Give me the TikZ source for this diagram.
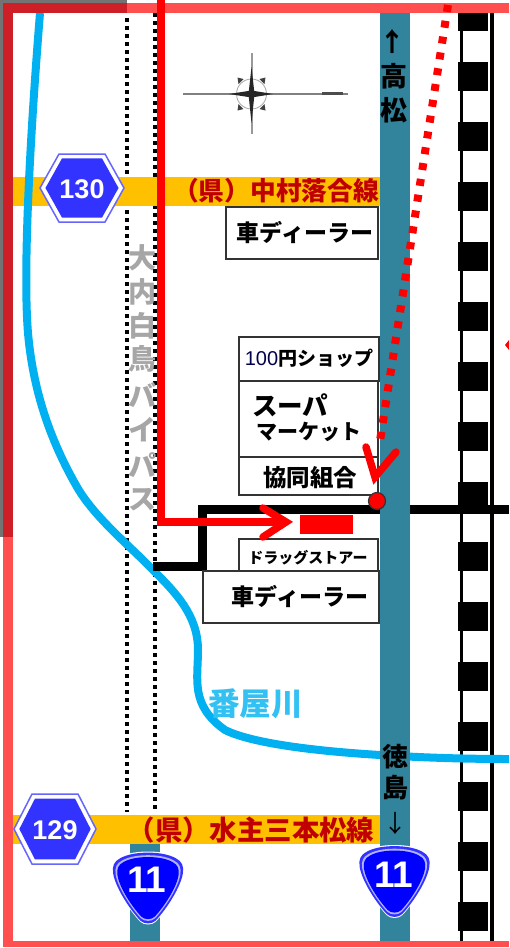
\documentclass[tikz,border=0pt]{standalone}
\usepackage{fontspec}
\setmainfont{Noto Sans CJK JP}
\newfontfamily\numfont{Liberation Sans}
\definecolor{frame}{HTML}{FF4F4F}
\definecolor{framedark}{HTML}{CF1F26}
\definecolor{teal}{HTML}{31849B}
\definecolor{band}{HTML}{FFC000}
\definecolor{river}{HTML}{00B0F0}
\definecolor{kenred}{HTML}{C00000}
\definecolor{hexblue}{HTML}{3333FF}
\newcommand{\fs}[1]{\fontsize{#1}{#1}\selectfont}
\tikzset{
  x=1pt,y=-1pt,
  shop/.style={draw=black!80,line width=1.5pt,fill=white},
  lbl/.style={inner sep=0pt,font=\fs{23}\bfseries},
  vlbl/.style={inner sep=0pt,font=\fs{27}\bfseries},
  gray lbl/.style={inner sep=0pt,text=black!35,font=\fs{28}\bfseries},
  ken/.style={inner sep=0pt,text=kenred,font=\fs{25.7}\bfseries},
  rail/.style={line width=3.5pt,black},
  dots/.style={line width=3.5pt,dash pattern=on 3.5pt off 4.5pt},
  numlbl/.style={inner sep=0pt,text=white,font=\numfont\bfseries\fs{27}},
  shieldnum/.style={inner sep=0pt,text=white,font=\numfont\bfseries\fs{37}},
  redline/.style={red,line width=8pt},
}
\newcommand{\hexsign}[5]{% cx cy halfwidth halfheight halftop
  \begin{scope}[shift={(#1,#2)}]
    \filldraw[fill=white,draw=hexblue!75,line width=1.5pt] (-#3,0)--(-#5,-#4)--(#5,-#4)--(#3,0)--(#5,#4)--(-#5,#4)--cycle;
    \begin{scope}[scale=0.87]
      \fill[hexblue] (-#3,0)--(-#5,-#4)--(#5,-#4)--(#3,0)--(#5,#4)--(-#5,#4)--cycle;
    \end{scope}
  \end{scope}}
\newcommand{\shieldpath}{(0,-37) .. controls (12,-37) and (22,-35) .. (29,-31)
  .. controls (35,-28) and (37,-23) .. (36,-16)
  .. controls (34,-2) and (20,20) .. (8,33)
  .. controls (4,37) and (-4,37) .. (-8,33)
  .. controls (-20,20) and (-34,-2) .. (-36,-16)
  .. controls (-37,-23) and (-35,-28) .. (-29,-31)
  .. controls (-22,-35) and (-12,-37) .. (0,-37) -- cycle}
\newcommand{\shieldsign}[2]{%
  \begin{scope}[shift={(#1,#2)}]
    \fill[white] \shieldpath;
    \begin{scope}[scale=0.97] \fill[hexblue] \shieldpath; \end{scope}
    \begin{scope}[scale=0.9] \fill[white!70!blue] \shieldpath; \end{scope}
    \begin{scope}[scale=0.85] \fill[blue] \shieldpath; \end{scope}
  \end{scope}}
\begin{document}
\begin{tikzpicture}
\useasboundingbox (0,0) rectangle (509,948);
\fill[white] (0,0) rectangle (509,948);
% dark background remnants
\fill[black!55] (0,0) rectangle (127,2.5);
\fill[black!55] (0,0) rectangle (3,537);
% railway
\fill[black] (458,13) rectangle (488,31);
\foreach \k in {0,...,14} {\fill[black] (458,{62+60*\k}) rectangle (488,{91+60*\k});}
\draw[rail] (461.5,13) -- (461.5,941);
\draw[rail] (492,13) -- (492,941);
% dotted roads
\draw[dots] (127,18) -- (127,812);
\draw[dots] (155,13) -- (155,810);
% prefectural road bands
\fill[band] (13,177) rectangle (380,206);
\fill[band] (13,815) rectangle (380,844);
% national road lower stub
\fill[teal] (130,844) rectangle (160,941);
% river
\draw[river,line width=8pt] (40,13) .. controls (33,100) and (22,260) .. (28,333)
  .. controls (33,390) and (50,440) .. (77,487)
  .. controls (95,518) and (130,546) .. (153,570)
  .. controls (175,592) and (198,615) .. (198,650)
  .. controls (198,680) and (190,705) .. (225,730)
  .. controls (255,745) and (330,752) .. (380,755)
  .. controls (430,758) and (470,759) .. (509,759);
% black roads
\draw[black,line width=9pt] (153,566) -- (202,566) -- (202,509) -- (380,509);
\draw[black,line width=9pt] (410,509) -- (509,509);
% main road
\fill[teal] (380,13) rectangle (410,941);
% frame
\fill[frame] (3,2.5) rectangle (509,13);
\fill[frame] (3,2.5) rectangle (13,947);
\fill[frame] (3,941) rectangle (509,947);
\fill[framedark] (3,2.5) rectangle (127,13);
\fill[framedark] (3,2.5) rectangle (13,537);
% compass
\draw[black!50,line width=1.5pt] (183,94) -- (348,94);
\draw[black!40,line width=2pt] (251.5,53) -- (251.5,134);
\draw[black!70,line width=2.5pt] (322,93.5) -- (343,93.5);
\draw[black!35,line width=0.8pt] (251.5,94) circle (15);
\fill[black!85] (229,94) -- (251.5,90.5) -- (273,94) -- (251.5,97.5) -- cycle;
\fill[black!85] (251.5,67) -- (254.5,94) -- (251.5,123) -- (248.5,94) -- cycle;
\foreach \sx/\sy in {-1/-1,1/-1,-1/1,1/1}
  {\fill[black!75] ({251.5+\sx*14},{94+\sy*16.5}) -- ({251.5+\sx*8},{94+\sy*15}) -- ({251.5+\sx*13},{94+\sy*10}) -- cycle;}
% shops
\node[shop,anchor=north west,minimum width=152pt,minimum height=52pt,inner sep=0pt] (dealerA) at (225,206) {};
\node[shop,anchor=north west,minimum width=140pt,minimum height=44pt,inner sep=0pt] (hyaku) at (238,336) {};
\node[shop,anchor=north west,minimum width=139pt,minimum height=76pt,inner sep=0pt] (super) at (238,380) {};
\node[shop,anchor=north west,minimum width=139pt,minimum height=38pt,inner sep=0pt] (kyodo) at (238,456) {};
\node[shop,anchor=north west,minimum width=139pt,minimum height=32pt,inner sep=0pt] (drug) at (238,538) {};
\node[shop,anchor=north west,minimum width=176pt,minimum height=52pt,inner sep=0pt] (dealerB) at (202,570) {};
\node[lbl] (tDealerA) at (305,232) {車ディーラー};
\node[lbl] (tDealerB) at (300,596) {車ディーラー};
\node[inner sep=0pt,font=\bfseries\fs{19}] (tHyaku) at (309,358) {{\mdseries\color{blue!30!black}\numfont\fs{20}100}円ショップ};
\node[inner sep=0pt,anchor=west,font=\bfseries\fs{25.5}] (tSuper) at (252,405) {スーパ};
\node[inner sep=0pt,anchor=west,font=\bfseries\fs{21}] (tMarket) at (256,432) {マーケット};
\node[inner sep=0pt,font=\bfseries\fs{23.5}] (tKyodo) at (310,478) {協同組合};
\node[inner sep=0pt,font=\bfseries\fs{15}] (tDrug) at (308,558) {ドラッグストアー};
% band labels
\node[ken] (ken130) at (276,191) {（県）中村落合線};
\node[ken,font=\fs{27.4}\bfseries] (ken129) at (251,830) {（県）水主三本松線};
% river label
\node[inner sep=0pt,text=river!80,font=\fs{31.5}\bfseries] (riverLbl) at (255.5,704) {番屋川};
% vertical gray label
\foreach \c/\yy/\nm in {大/258/a,内/292/b,白/326/c,鳥/359/d,バ/395/e,イ/430/f,パ/465/g,ス/500/h}
  {\node[gray lbl] (by\nm) at (142,\yy) {\c};}
% road direction labels
\node[inner sep=0pt,font=\fs{26}\bfseries] (arrUp) at (392,42) {↑};
\node[vlbl] (taka) at (394,76) {高};
\node[vlbl] (matsu) at (394,110) {松};
\node[inner sep=0pt,font=\fs{26}\bfseries] (toku) at (395,757) {徳};
\node[inner sep=0pt,font=\fs{26}\bfseries] (shima) at (395,788) {島};
\node[inner sep=0pt,font=\fs{24}] (arrDown) at (395,823) {↓};
% route
\coordinate (rStart) at (160.5,0);
\coordinate (rCorner) at (160.5,522);
\coordinate (rTip) at (286,522);
\draw[redline,line join=miter] (rStart) -- (rCorner) -- (rTip);
\draw[red,line width=7.5pt,line cap=round,line join=miter] (263,508) -- (rTip) -- (263,537);
\node[fill=red,inner sep=0pt,minimum width=53pt,minimum height=19pt,anchor=north west] (dest) at (300,515) {};
\coordinate (dStart) at (448,5);
\node[circle,fill=red,draw=black!80,line width=1.2pt,minimum size=17pt,inner sep=0pt] (junction) at (377,501) {};
\coordinate (dTip) at (375,477);
\coordinate (dEnd) at (379,447);
\draw[red,line width=8pt,dash pattern=on 7pt off 9pt] (dStart) -- (dEnd);
\draw[red,line width=7.5pt,line cap=round,line join=miter,miter limit=20] (366,447) -- (dTip) -- (396,452);
% off-map arrow tip
\coordinate (tipA) at (505,345);
\fill[red] (509,340) -- (tipA) -- (509,350) -- cycle;
% signs
\hexsign{82}{188}{42}{34}{23}
\node[numlbl] (n130) at (82,189) {130};
\hexsign{55}{829}{41}{35}{23}
\node[numlbl] (n129) at (55,830) {129};
\shieldsign{148}{888.5}
\node[shieldnum] (s11a) at (147,880) {11};
\shieldsign{394.5}{882}
\node[shieldnum] (s11b) at (394,875) {11};
\end{tikzpicture}
\end{document}
